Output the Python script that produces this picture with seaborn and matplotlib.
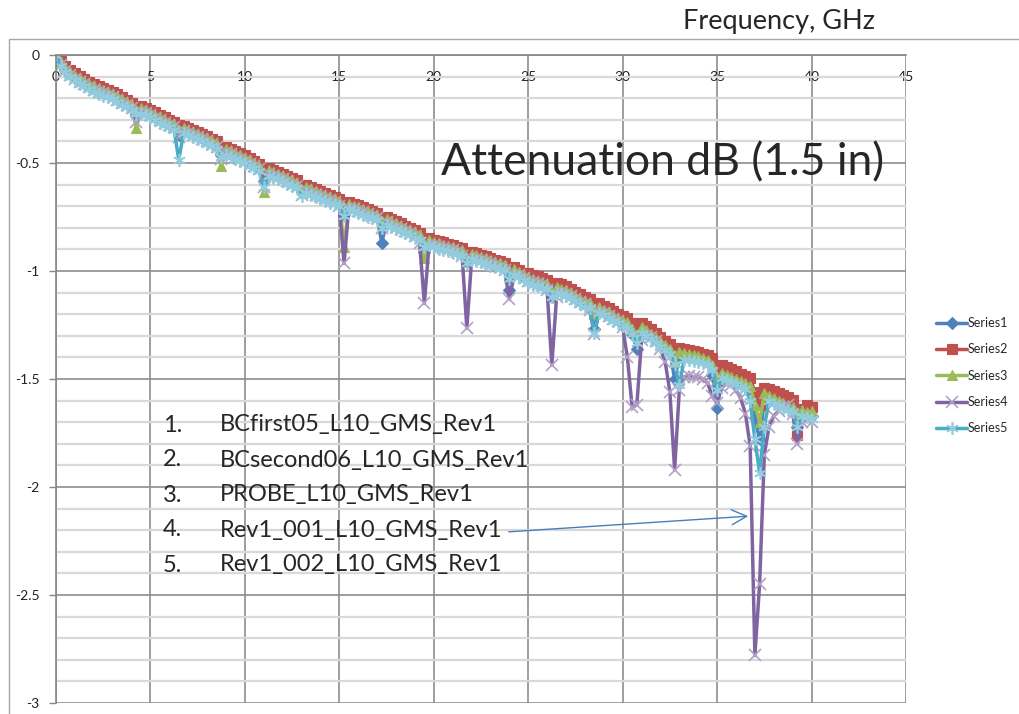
import numpy as np
import matplotlib
matplotlib.use("Agg")
import matplotlib.pyplot as plt
import seaborn as sns
from matplotlib.lines import Line2D
from matplotlib.patches import FancyArrowPatch
from matplotlib.ticker import MultipleLocator

# ---------------- data ----------------
freq_ghz = np.linspace(0.0, 40.0, 161)   # sweep 0..40 GHz, 0.25 GHz step

series_names = ["Series1", "Series2", "Series3", "Series4", "Series5"]

series1 = [
    0.000, -0.040, -0.068, -0.088, -0.105, -0.118, -0.130, -0.143,
    -0.155, -0.164, -0.173, -0.181, -0.190, -0.202, -0.215, -0.228,
    -0.240, -0.275, -0.256, -0.264, -0.273, -0.286, -0.298, -0.309,
    -0.320, -0.330, -0.370, -0.348, -0.357, -0.366, -0.376, -0.385,
    -0.395, -0.408, -0.420, -0.465, -0.446, -0.455, -0.465, -0.475,
    -0.485, -0.498, -0.510, -0.523, -0.585, -0.544, -0.553, -0.561,
    -0.570, -0.580, -0.590, -0.601, -0.635, -0.622, -0.632, -0.641,
    -0.650, -0.659, -0.668, -0.676, -0.685, -0.740, -0.700, -0.708,
    -0.715, -0.724, -0.733, -0.741, -0.750, -0.870, -0.770, -0.780,
    -0.790, -0.800, -0.810, -0.820, -0.830, -0.842, -0.910, -0.865,
    -0.875, -0.882, -0.888, -0.894, -0.900, -0.908, -0.915, -0.960,
    -0.930, -0.938, -0.945, -0.952, -0.960, -0.968, -0.975, -0.982,
    -1.090, -1.003, -1.015, -1.028, -1.040, -1.048, -1.055, -1.062,
    -1.070, -1.120, -1.085, -1.092, -1.100, -1.112, -1.125, -1.138,
    -1.150, -1.158, -1.270, -1.178, -1.190, -1.202, -1.215, -1.228,
    -1.240, -1.248, -1.290, -1.360, -1.270, -1.285, -1.300, -1.318,
    -1.335, -1.352, -1.370, -1.500, -1.400, -1.390, -1.395, -1.400,
    -1.405, -1.412, -1.420, -1.480, -1.635, -1.480, -1.490, -1.500,
    -1.510, -1.520, -1.530, -1.560, -1.680, -1.780, -1.600, -1.588,
    -1.600, -1.610, -1.620, -1.630, -1.640, -1.720, -1.655, -1.663,
    -1.670,
]

series2 = [
    -0.005, -0.028, -0.050, -0.069, -0.085, -0.098, -0.110, -0.123,
    -0.135, -0.144, -0.153, -0.161, -0.170, -0.182, -0.195, -0.208,
    -0.220, -0.245, -0.236, -0.244, -0.253, -0.266, -0.278, -0.289,
    -0.300, -0.310, -0.325, -0.328, -0.337, -0.346, -0.356, -0.365,
    -0.375, -0.388, -0.400, -0.428, -0.426, -0.435, -0.445, -0.455,
    -0.465, -0.478, -0.490, -0.503, -0.535, -0.524, -0.533, -0.541,
    -0.550, -0.560, -0.570, -0.581, -0.600, -0.602, -0.612, -0.621,
    -0.630, -0.639, -0.648, -0.656, -0.665, -0.690, -0.680, -0.688,
    -0.695, -0.704, -0.713, -0.721, -0.730, -0.755, -0.750, -0.760,
    -0.770, -0.780, -0.790, -0.800, -0.810, -0.822, -0.855, -0.845,
    -0.855, -0.862, -0.868, -0.874, -0.880, -0.888, -0.895, -0.920,
    -0.910, -0.918, -0.925, -0.932, -0.940, -0.948, -0.955, -0.962,
    -0.985, -0.983, -0.995, -1.008, -1.010, -1.018, -1.025, -1.032,
    -1.040, -1.070, -1.055, -1.062, -1.070, -1.082, -1.095, -1.108,
    -1.120, -1.128, -1.160, -1.148, -1.160, -1.172, -1.185, -1.198,
    -1.210, -1.218, -1.240, -1.250, -1.240, -1.255, -1.270, -1.288,
    -1.305, -1.322, -1.340, -1.370, -1.355, -1.360, -1.365, -1.370,
    -1.375, -1.382, -1.390, -1.405, -1.450, -1.435, -1.445, -1.455,
    -1.465, -1.475, -1.485, -1.497, -1.560, -1.620, -1.540, -1.545,
    -1.555, -1.565, -1.575, -1.585, -1.595, -1.760, -1.640, -1.620,
    -1.630,
]

series3 = [
    0.000, -0.032, -0.058, -0.078, -0.095, -0.108, -0.120, -0.133,
    -0.145, -0.154, -0.163, -0.171, -0.180, -0.192, -0.205, -0.218,
    -0.230, -0.340, -0.246, -0.254, -0.263, -0.276, -0.288, -0.299,
    -0.310, -0.320, -0.345, -0.338, -0.347, -0.356, -0.366, -0.375,
    -0.385, -0.398, -0.410, -0.515, -0.436, -0.445, -0.455, -0.465,
    -0.475, -0.488, -0.500, -0.513, -0.635, -0.534, -0.543, -0.551,
    -0.560, -0.570, -0.580, -0.591, -0.625, -0.612, -0.622, -0.631,
    -0.640, -0.649, -0.658, -0.666, -0.675, -0.890, -0.690, -0.698,
    -0.705, -0.714, -0.723, -0.731, -0.740, -0.775, -0.760, -0.770,
    -0.780, -0.790, -0.800, -0.810, -0.820, -0.832, -0.940, -0.855,
    -0.865, -0.872, -0.878, -0.884, -0.890, -0.898, -0.905, -0.950,
    -0.920, -0.928, -0.935, -0.942, -0.950, -0.958, -0.965, -0.972,
    -1.020, -0.993, -1.005, -1.018, -1.030, -1.038, -1.045, -1.052,
    -1.060, -1.100, -1.075, -1.082, -1.090, -1.102, -1.115, -1.128,
    -1.140, -1.148, -1.200, -1.168, -1.180, -1.192, -1.205, -1.218,
    -1.230, -1.238, -1.270, -1.300, -1.260, -1.275, -1.290, -1.308,
    -1.325, -1.342, -1.360, -1.420, -1.375, -1.380, -1.385, -1.390,
    -1.395, -1.402, -1.410, -1.435, -1.500, -1.470, -1.480, -1.490,
    -1.500, -1.510, -1.520, -1.532, -1.620, -1.700, -1.565, -1.578,
    -1.590, -1.600, -1.610, -1.620, -1.630, -1.700, -1.645, -1.653,
    -1.650,
]

series4 = [
    0.000, -0.045, -0.073, -0.093, -0.110, -0.123, -0.135, -0.148,
    -0.160, -0.169, -0.178, -0.186, -0.195, -0.207, -0.220, -0.233,
    -0.245, -0.310, -0.261, -0.269, -0.278, -0.291, -0.303, -0.314,
    -0.325, -0.335, -0.380, -0.353, -0.362, -0.371, -0.381, -0.390,
    -0.400, -0.413, -0.425, -0.480, -0.451, -0.460, -0.470, -0.480,
    -0.490, -0.503, -0.515, -0.528, -0.610, -0.549, -0.558, -0.566,
    -0.575, -0.585, -0.595, -0.606, -0.650, -0.627, -0.637, -0.646,
    -0.655, -0.664, -0.673, -0.681, -0.700, -0.965, -0.710, -0.713,
    -0.720, -0.729, -0.738, -0.746, -0.755, -0.800, -0.775, -0.785,
    -0.795, -0.805, -0.815, -0.825, -0.840, -0.870, -1.150, -0.880,
    -0.880, -0.887, -0.893, -0.899, -0.905, -0.913, -0.930, -1.265,
    -0.950, -0.943, -0.950, -0.957, -0.965, -0.973, -0.980, -0.995,
    -1.130, -1.020, -1.020, -1.033, -1.045, -1.053, -1.060, -1.067,
    -1.090, -1.435, -1.120, -1.097, -1.105, -1.117, -1.130, -1.143,
    -1.155, -1.180, -1.290, -1.190, -1.195, -1.207, -1.220, -1.233,
    -1.260, -1.400, -1.630, -1.620, -1.320, -1.300, -1.305, -1.323,
    -1.360, -1.420, -1.560, -1.920, -1.550, -1.490, -1.485, -1.490,
    -1.490, -1.500, -1.520, -1.580, -1.610, -1.540, -1.520, -1.530,
    -1.550, -1.590, -1.660, -1.810, -2.780, -2.450, -1.850, -1.720,
    -1.670, -1.650, -1.630, -1.620, -1.660, -1.800, -1.700, -1.690,
    -1.700,
]

series5 = [
    0.000, -0.050, -0.080, -0.100, -0.118, -0.132, -0.145, -0.158,
    -0.170, -0.179, -0.188, -0.196, -0.205, -0.217, -0.230, -0.243,
    -0.255, -0.275, -0.271, -0.279, -0.288, -0.301, -0.313, -0.324,
    -0.335, -0.345, -0.485, -0.363, -0.372, -0.381, -0.391, -0.400,
    -0.410, -0.423, -0.435, -0.470, -0.461, -0.470, -0.480, -0.490,
    -0.500, -0.513, -0.525, -0.538, -0.610, -0.559, -0.568, -0.576,
    -0.585, -0.595, -0.605, -0.616, -0.655, -0.637, -0.647, -0.656,
    -0.665, -0.674, -0.683, -0.691, -0.700, -0.745, -0.715, -0.723,
    -0.730, -0.739, -0.748, -0.756, -0.765, -0.800, -0.785, -0.795,
    -0.805, -0.815, -0.825, -0.835, -0.845, -0.857, -0.890, -0.880,
    -0.890, -0.897, -0.903, -0.909, -0.915, -0.923, -0.930, -0.965,
    -0.945, -0.953, -0.960, -0.967, -0.975, -0.983, -0.990, -0.997,
    -1.035, -1.018, -1.030, -1.043, -1.055, -1.063, -1.070, -1.077,
    -1.085, -1.120, -1.100, -1.107, -1.115, -1.127, -1.140, -1.153,
    -1.165, -1.173, -1.285, -1.193, -1.205, -1.217, -1.230, -1.243,
    -1.255, -1.263, -1.290, -1.335, -1.285, -1.300, -1.315, -1.333,
    -1.350, -1.367, -1.385, -1.430, -1.530, -1.410, -1.410, -1.415,
    -1.420, -1.427, -1.435, -1.460, -1.550, -1.495, -1.505, -1.515,
    -1.525, -1.535, -1.545, -1.600, -1.780, -1.935, -1.720, -1.603,
    -1.615, -1.625, -1.635, -1.645, -1.655, -1.720, -1.670, -1.678,
    -1.685,
]

x_ticks = [0, 5, 10, 15, 20, 25, 30, 35, 40, 45]
x_tick_labels = ["0", "5", "10", "15", "20", "25", "30", "35", "40", "45"]
y_ticks = [0, -0.5, -1, -1.5, -2, -2.5, -3]
y_tick_labels = ["0", "-0.5", "-1", "-1.5", "-2", "-2.5", "-3"]

file_numbers = ["1.", "2.", "3.", "4.", "5."]
file_names = ["BCfirst05_L10_GMS_Rev1", "BCsecond06_L10_GMS_Rev1",
              "PROBE_L10_GMS_Rev1", "Rev1_001_L10_GMS_Rev1",
              "Rev1_002_L10_GMS_Rev1"]

title_text = "Attenuation dB (1.5 in)"
axis_text = "Frequency, GHz"

all_series = [series1, series2, series3, series4, series5]
for s in all_series:
    assert len(s) == len(freq_ghz), len(s)

# ---------------- style ----------------
sns.set_theme(style="white")
plt.rcParams["font.family"] = ["Lato", "DejaVu Sans"]
plt.rcParams["axes.unicode_minus"] = False

W, H = 1020, 714
fig = plt.figure(figsize=(W / 100, H / 100), dpi=100)
fig.patch.set_facecolor("white")
ax = fig.add_axes([56 / W, 1 - 703 / H, (906 - 56) / W, (703 - 55) / H])
ax.set_facecolor("white")

styles = [
    dict(color="#4F81BD", marker="D", ms=6.0, mfc="#4F81BD", mec="#4F81BD", mew=0.8),
    dict(color="#C0504D", marker="s", ms=7.0, mfc="#C0504D", mec="#C0504D", mew=0.8),
    dict(color="#9BBB59", marker="^", ms=7.5, mfc="#9BBB59", mec="#9BBB59", mew=0.8),
    dict(color="#8064A2", marker="x", ms=8.0, mec="#B3A2C7", mew=1.2),
    dict(color="#4BACC6", marker=(6, 2, 0), ms=9.0, mec="#93CDDD", mew=1.2),
]

for name, vals, st in zip(series_names, all_series, styles):
    sns.lineplot(x=freq_ghz, y=vals, ax=ax, label=name, lw=2.5,
                 sort=False, estimator=None, errorbar=None, **st)

ax.set_xlim(0, 45)
ax.set_ylim(-3, 0)
ax.set_xticks(x_ticks)
ax.set_xticklabels(x_tick_labels)
ax.set_yticks(y_ticks)
ax.set_yticklabels(y_tick_labels)
ax.yaxis.set_minor_locator(MultipleLocator(0.1))
ax.set_xlabel("")
ax.set_ylabel("")

ax.xaxis.tick_top()
ax.tick_params(axis="x", which="both", length=0, pad=-20, labelsize=10,
               labelcolor="#222222")
ax.tick_params(axis="y", which="major", length=5, width=1, color="#868686",
               direction="out", pad=7, labelsize=10, labelcolor="#222222", left=True)
ax.tick_params(axis="y", which="minor", length=0)

ax.set_axisbelow(True)
ax.grid(which="minor", axis="y", color="#D9D9D9", lw=1.6)
ax.grid(which="major", axis="y", color="#8E8E8E", lw=1.2)
ax.grid(which="major", axis="x", color="#8E8E8E", lw=1.2)

for side in ["right", "bottom"]:
    ax.spines[side].set_visible(False)
for side in ["left", "top"]:
    ax.spines[side].set_visible(True)
    ax.spines[side].set_color("#868686")
    ax.spines[side].set_linewidth(1.2)

# legend
handles, labels = ax.get_legend_handles_labels()
ax.get_legend().remove()
fig.legend(handles, labels, loc="upper left",
           bbox_to_anchor=(936 / W, 1 - 317 / H), frameon=False,
           borderpad=0, borderaxespad=0, handlelength=2.5, handletextpad=0.0,
           labelspacing=1.15, fontsize=9)

# texts
fig.text(779 / W, 1 - 21 / H, axis_text, ha="center", va="center", fontsize=19.5)
fig.text(663 / W, 1 - 163 / H, title_text, ha="center", va="center", fontsize=32)
row_y = [425, 460, 495, 530, 565]
for num, nm, yy in zip(file_numbers, file_names, row_y):
    fig.text(163 / W, 1 - yy / H, num, ha="left", va="center", fontsize=17)
    fig.text(220 / W, 1 - yy / H, nm, ha="left", va="center", fontsize=17)

# arrow from list entry 4 to the deep dip
arrow = FancyArrowPatch(posA=(506 / W, 1 - 532 / H), posB=(751 / W, 1 - 516 / H),
                        transform=fig.transFigure, arrowstyle="->,head_length=0.9,head_width=0.45",
                        mutation_scale=12, color="#4A7EBB", lw=1.0)
fig.add_artist(arrow)

# chart area border
fig.add_artist(Line2D([9 / W, 9 / W, 1.0], [0.0, 1 - 39 / H, 1 - 39 / H],
                      transform=fig.transFigure, color="#A6A6A6", lw=1.0))

fig.savefig("out.png", dpi=100, facecolor="white")
